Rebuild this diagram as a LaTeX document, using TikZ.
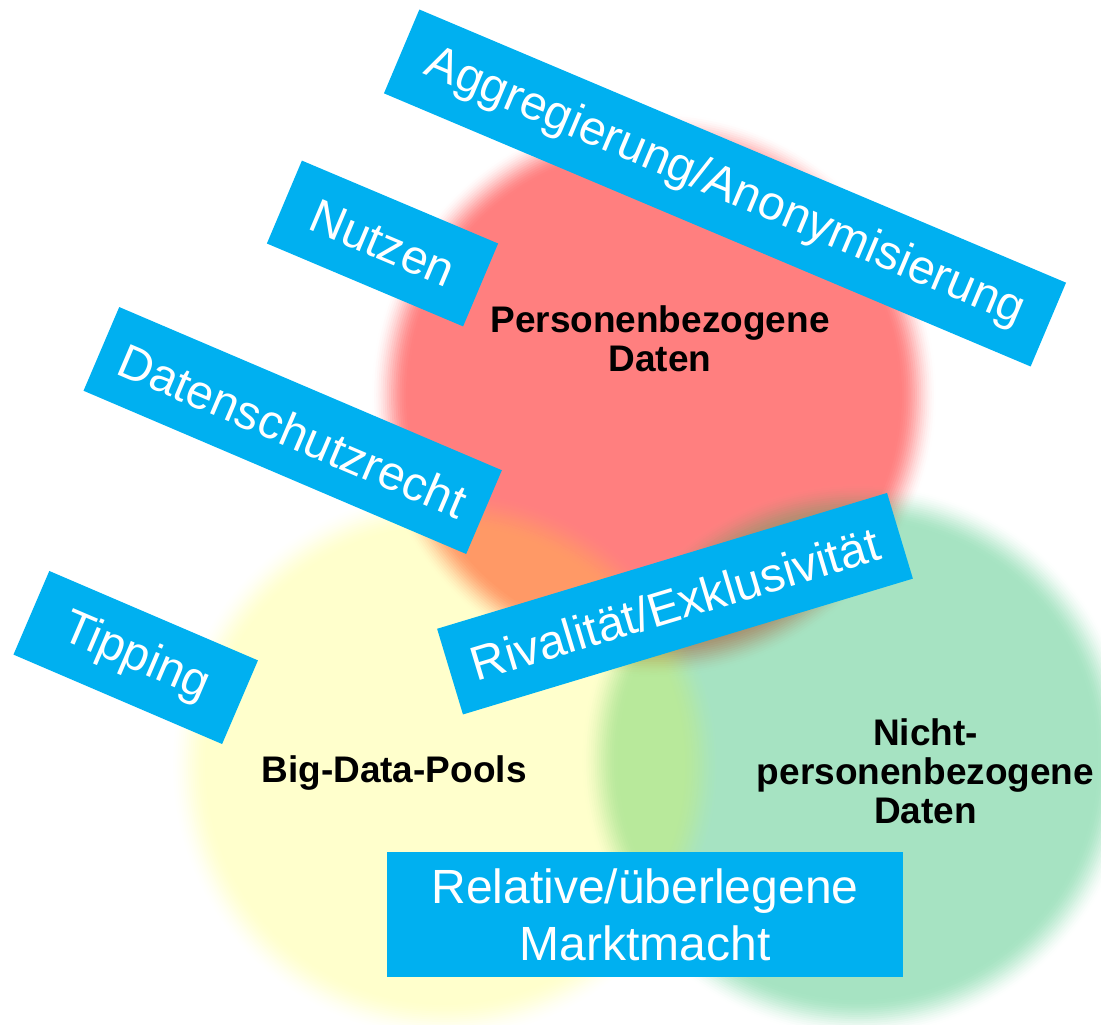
\documentclass[tikz,border=0pt]{standalone}
\usepackage{fontspec}
\setmainfont{Liberation Sans}
\definecolor{boxblue}{HTML}{00B0F0}
\definecolor{cred}{HTML}{FF0000}
\definecolor{cyel}{HTML}{FFFF00}
\definecolor{cgrn}{HTML}{00B050}
% soft-edged disc: colour, x, y, radius, overall opacity
\newcommand\softdisc[5]{%
  \begin{scope}[transparency group, opacity=#5]
    \foreach \sdI in {1,...,18}{%
      \pgfmathsetmacro\sdT{\sdI/18}%
      \pgfmathsetmacro\sdU{(\sdI-1)/18}%
      \pgfmathsetmacro\sdA{3*\sdT*\sdT-2*\sdT*\sdT*\sdT}%
      \pgfmathsetmacro\sdB{3*\sdU*\sdU-2*\sdU*\sdU*\sdU}%
      \pgfmathsetmacro\sdO{min(1,(\sdA-\sdB)/max(0.0001,1-\sdB))}%
      \pgfmathsetmacro\sdR{#4+18-36*(\sdI-1)/17}%
      \fill[#1, fill opacity=\sdO] (#2,#3) circle[radius=\sdR];
    }
  \end{scope}}
\begin{document}
\begin{tikzpicture}[x=1pt,y=-1pt,
  tag/.style={fill=boxblue, text=white, inner sep=0pt, font=\fontsize{48}{57}\selectfont, align=center},
  lbl/.style={font=\bfseries\fontsize{37}{39}\selectfont, align=center, text=black}]
\useasboundingbox (0,0) rectangle (1101,1025);
\clip (0,0) rectangle (1101,1025);
\softdisc{cred}{654}{395}{264}{0.5}
\softdisc{cgrn}{858}{760}{258}{0.35}
\softdisc{cyel}{445}{765}{256}{0.2}
\node[lbl] (pers) at (660,339) {Personenbezogene\\Daten};
\node[lbl] (nicht) at (925.5,771.5) {Nicht-\\personenbezogene\\Daten};
\node[lbl] (big) at (394,773.4) {Big-Data-Pools};
\node[tag, minimum width=702, minimum height=91, rotate=-22.9] (agg) at (725,188) {Aggregierung/Anonymisierung};
\node[tag, minimum width=213, minimum height=90, rotate=-22.9] (nutzen) at (382.5,243.5) {Nutzen};
\node[tag, minimum width=416, minimum height=91, rotate=-23.1] (dsr) at (292.7,430.5) {Datenschutzrecht};
\node[tag, minimum width=227, minimum height=91, rotate=-23.2] (tip) at (135.7,657.5) {Tipping};
\node[tag, minimum width=470, minimum height=89.5, rotate=16.8] (riv) at (675,603.7) {Rivalität/Exklusivität};
\node[tag, minimum width=516, minimum height=125] (markt) at (645,914.5) {Relative/überlegene\\Marktmacht};
\end{tikzpicture}
\end{document}
